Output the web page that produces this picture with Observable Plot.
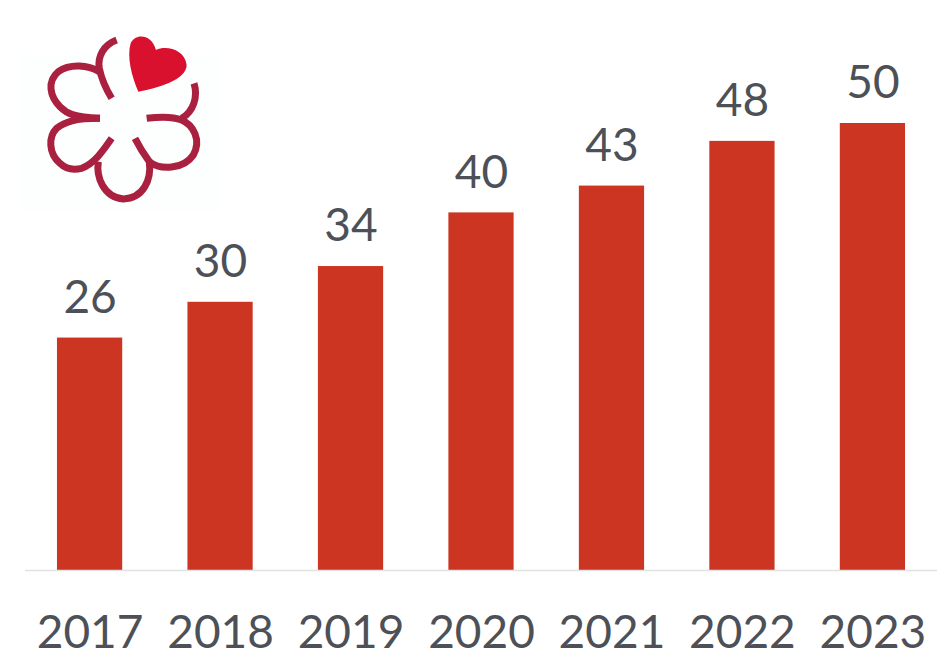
<!DOCTYPE html>
<html>
<head>
<meta charset="utf-8">
<script src="https://cdn.jsdelivr.net/npm/d3@7"></script>
<script src="https://cdn.jsdelivr.net/npm/@observablehq/plot@0.6"></script>
<style>
  html, body { margin: 0; padding: 0; background: #fff; }
  svg { display: block; }
</style>
</head>
<body>
<div id="chart"></div>
<script>
const years = ["2017", "2018", "2019", "2020", "2021", "2022", "2023"];
const counts = [26, 30, 34, 40, 43, 48, 50];
const rows = years.map((year, i) => ({year, count: counts[i]}));

const barColor = "#cb3521";
const textColor = "#4d5157";
const labelFont = "Lato, 'Open Sans', sans-serif";

// Guide emblem: five outlined petals around a blank centre, with a heart in the upper right.
const petalPaths = [
  "M320,120 C280,135 262,170 268,205 C275,240 290,270 305,295",
  "M268,215 C235,195 180,190 145,215 C110,245 120,290 150,320 C170,340 190,352 270,355",
  "M270,355 C195,355 165,365 140,385 C115,410 115,460 150,490 C170,510 195,510 215,505 C255,490 280,450 305,415",
  "M265,485 C258,530 280,592 340,597 C400,595 425,540 418,485 C400,460 385,435 375,415",
  "M418,485 C450,510 520,510 550,465 C575,420 550,375 515,360 C490,350 450,350 410,355",
  "M515,355 C550,335 565,290 552,250"
];
const heartPath = "M385,275 C365,230 350,170 362,130 C375,100 425,100 438,150 C470,135 525,150 530,195 C530,240 440,265 385,275 Z";

function emblem() {
  const g = d3.create("svg:g");
  g.append("rect").attr("x", 20).attr("y", 55).attr("width", 200).attr("height", 156).attr("fill", "#fdfefe");
  const art = g.append("g")
    .attr("transform", "translate(10,0) scale(0.3333)")
    .style("filter", "blur(1px)");
  art.selectAll("path.petal").data(petalPaths).join("path")
    .attr("class", "petal")
    .attr("d", d => d)
    .attr("fill", "none")
    .attr("stroke", "#a9213f")
    .attr("stroke-width", 21);
  art.append("path").attr("d", heartPath).attr("fill", "#d9112f");
  return g.node();
}

const chart = Plot.plot({
  width: 948,
  height: 657,
  marginTop: 0,
  marginLeft: 25,
  marginRight: 11,
  marginBottom: 87,
  style: {background: "#ffffff", overflow: "visible"},
  x: {domain: years, paddingInner: 0.5, paddingOuter: 0.245, round: false, label: null},
  y: {domain: [0, 50], range: [570, 123], axis: null},
  marks: [
    Plot.barY(rows, {x: "year", y: "count", fill: barColor}),
    Plot.ruleY([0], {stroke: "#e2e2e2", strokeWidth: 1.5}),
    Plot.text(rows, {
      x: "year", y: "count", text: d => String(d.count),
      dy: -58, lineAnchor: "top",
      fill: textColor, fontSize: 46, fontFamily: labelFont
    }),
    Plot.axisX({
      tickSize: 0, tickPadding: 45, label: null,
      fontSize: 46, fontFamily: labelFont, color: textColor
    }),
    emblem
  ]
});
document.getElementById("chart").append(chart);
</script>
</body>
</html>
